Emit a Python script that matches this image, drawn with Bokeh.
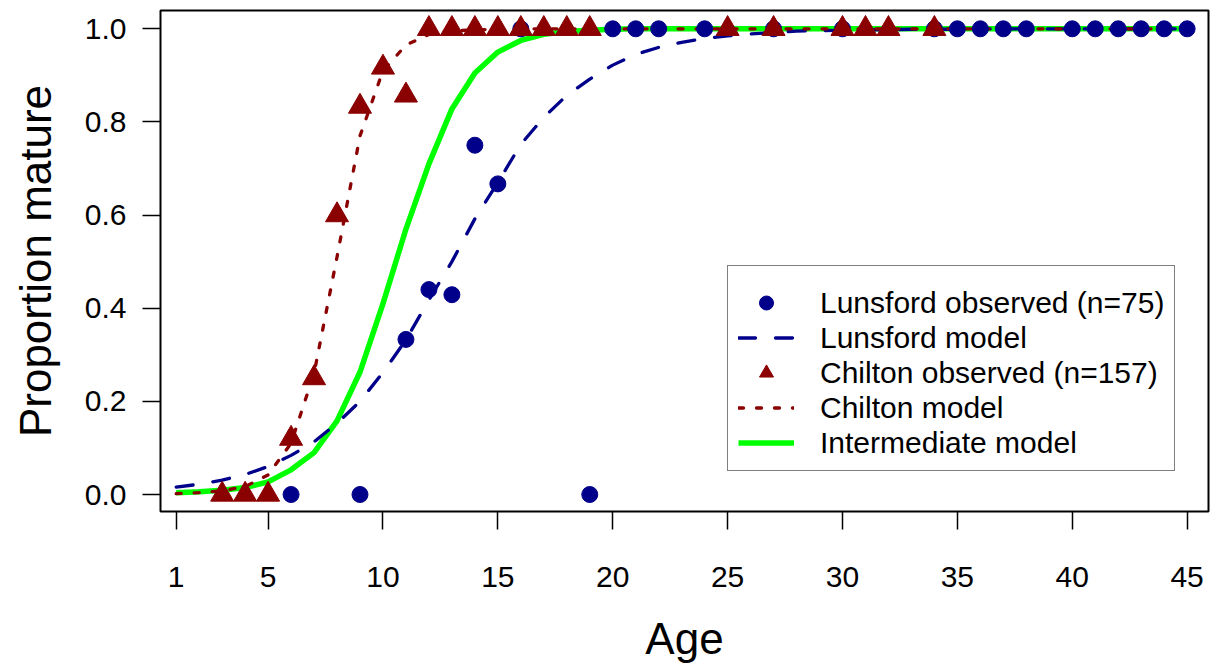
from bokeh.plotting import figure
from bokeh.models import Range1d, FixedTicker, NumeralTickFormatter, Legend, LegendItem
from bokeh.embed import file_html
from bokeh.resources import INLINE

# ---- data ----
model_age = [1, 2, 3, 4, 5, 6, 7, 8, 9, 10, 11, 12, 13, 14, 15, 16, 17, 18, 19, 20,
             21, 22, 23, 24, 25, 26, 27, 28, 29, 30, 31, 32, 33, 34, 35, 36, 37, 38, 39, 40,
             41, 42, 43, 44, 45]
lunsford_model = [0.016, 0.022, 0.031, 0.043, 0.060, 0.084, 0.113, 0.153, 0.200, 0.262,
                  0.332, 0.418, 0.500, 0.592, 0.670, 0.752, 0.810, 0.857, 0.892, 0.922,
                  0.945, 0.960, 0.971, 0.979, 0.985, 0.989, 0.992, 0.995, 0.996, 0.997,
                  0.998, 0.998, 0.999, 0.999, 0.999, 1.0, 1.0, 1.0, 1.0, 1.0,
                  1.0, 1.0, 1.0, 1.0, 1.0]
chilton_model = [0.002, 0.004, 0.008, 0.017, 0.042, 0.110, 0.260, 0.510, 0.770, 0.910,
                 0.965, 0.988, 0.995, 0.998, 0.999, 1.0, 1.0, 1.0, 1.0, 1.0,
                 1.0, 1.0, 1.0, 1.0, 1.0, 1.0, 1.0, 1.0, 1.0, 1.0,
                 1.0, 1.0, 1.0, 1.0, 1.0, 1.0, 1.0, 1.0, 1.0, 1.0,
                 1.0, 1.0, 1.0, 1.0, 1.0]
intermediate_model = [0.004, 0.006, 0.009, 0.015, 0.027, 0.053, 0.090, 0.158, 0.263, 0.410,
                      0.570, 0.710, 0.828, 0.905, 0.950, 0.975, 0.988, 0.994, 0.997, 0.999,
                      1.0, 1.0, 1.0, 1.0, 1.0, 1.0, 1.0, 1.0, 1.0, 1.0,
                      1.0, 1.0, 1.0, 1.0, 1.0, 1.0, 1.0, 1.0, 1.0, 1.0,
                      1.0, 1.0, 1.0, 1.0, 1.0]

lunsford_age = [6, 9, 11, 12, 13, 14, 15, 16, 19, 20, 21, 22, 24, 27, 30, 34, 35, 36, 37, 38,
                40, 41, 42, 43, 44, 45]
lunsford_obs = [0.0, 0.0, 0.333, 0.44, 0.429, 0.75, 0.667, 1.0, 0.0, 1.0, 1.0, 1.0, 1.0, 1.0,
                1.0, 1.0, 1.0, 1.0, 1.0, 1.0, 1.0, 1.0, 1.0, 1.0, 1.0, 1.0]

chilton_age = [3, 4, 5, 6, 7, 8, 9, 10, 11, 12, 13, 14, 15, 16, 17, 18, 19, 25, 27, 30, 31, 32, 34]
chilton_obs = [0.0, 0.0, 0.0, 0.12, 0.25, 0.60, 0.833, 0.917, 0.857, 1.0, 1.0, 1.0, 1.0, 1.0,
               1.0, 1.0, 1.0, 1.0, 1.0, 1.0, 1.0, 1.0, 1.0]

x_ticks = [1, 5, 10, 15, 20, 25, 30, 35, 40, 45]
y_ticks = [0.0, 0.2, 0.4, 0.6, 0.8, 1.0]

legend_labels = ["Lunsford observed (n=75)", "Lunsford model", "Chilton observed (n=157)",
                 "Chilton model", "Intermediate model"]

FONT = "Liberation Sans"
BLUE = "#00008B"
RED = "#8B0000"
GREEN = "#00FF00"

p = figure(width=1222, height=668, output_backend="svg", toolbar_location=None,
           x_range=Range1d(0.317, 45.93), y_range=Range1d(-0.0365, 1.0393),
           min_border_left=160, min_border_right=14, min_border_top=10,
           min_border_bottom=157)

p.background_fill_color = "white"
p.border_fill_color = "white"
p.outline_line_color = "black"
p.outline_line_width = 2
p.outline_line_alpha = 1.0
p.xgrid.visible = False
p.ygrid.visible = False

r_green = p.line(model_age, intermediate_model, line_color=GREEN, line_width=5.5)
r_lmod = p.line(model_age, lunsford_model, line_color=BLUE, line_width=3.3,
                line_dash="17 20", line_cap="round")
r_cmod = p.line(model_age, chilton_model, line_color=RED, line_width=3.3,
                line_dash="5 13", line_cap="round")
r_lobs = p.scatter(lunsford_age, lunsford_obs, marker="circle", size=16,
                   fill_color=BLUE, line_color=BLUE)
r_cobs = p.scatter(chilton_age, chilton_obs, marker="triangle", size=23,
                   fill_color=RED, line_color=RED)

# axes
for ax in (p.xaxis[0], p.yaxis[0]):
    ax.axis_line_color = None
    ax.major_tick_line_color = "black"
    ax.major_tick_line_width = 1.5
    ax.major_tick_out = 18
    ax.major_tick_in = 0
    ax.minor_tick_line_color = None
    ax.major_label_text_font = FONT
    ax.major_label_text_font_size = "30px"
    ax.major_label_text_color = "black"
    ax.axis_label_text_font = FONT
    ax.axis_label_text_font_size = "44px"
    ax.axis_label_text_font_style = "normal"
    ax.axis_label_text_color = "black"

p.xaxis[0].ticker = FixedTicker(ticks=x_ticks)
p.yaxis[0].ticker = FixedTicker(ticks=y_ticks)
p.yaxis[0].formatter = NumeralTickFormatter(format="0.0")
p.xaxis[0].axis_label = "Age"
p.yaxis[0].axis_label = "Proportion mature"
p.xaxis[0].major_label_standoff = 37
p.xaxis[0].axis_label_standoff = 24
p.yaxis[0].major_label_standoff = 16
p.yaxis[0].axis_label_standoff = 22

legend = Legend(
    items=[LegendItem(label=legend_labels[0], renderers=[r_lobs]),
           LegendItem(label=legend_labels[1], renderers=[r_lmod]),
           LegendItem(label=legend_labels[2], renderers=[r_cobs]),
           LegendItem(label=legend_labels[3], renderers=[r_cmod]),
           LegendItem(label=legend_labels[4], renderers=[r_green])],
    location=(567, 40),
    title=" ", title_text_font_size="8px", title_standoff=0,
    padding=10, spacing=0, margin=0,
    glyph_width=56, glyph_height=35, label_height=35, label_standoff=26,
    label_text_font=FONT, label_text_font_size="30px", label_text_color="black",
    border_line_color="black", border_line_width=1.5,
    background_fill_color="white", background_fill_alpha=1.0,
)
p.add_layout(legend, "center")

open("out.html", "w").write(file_html(p, INLINE))
